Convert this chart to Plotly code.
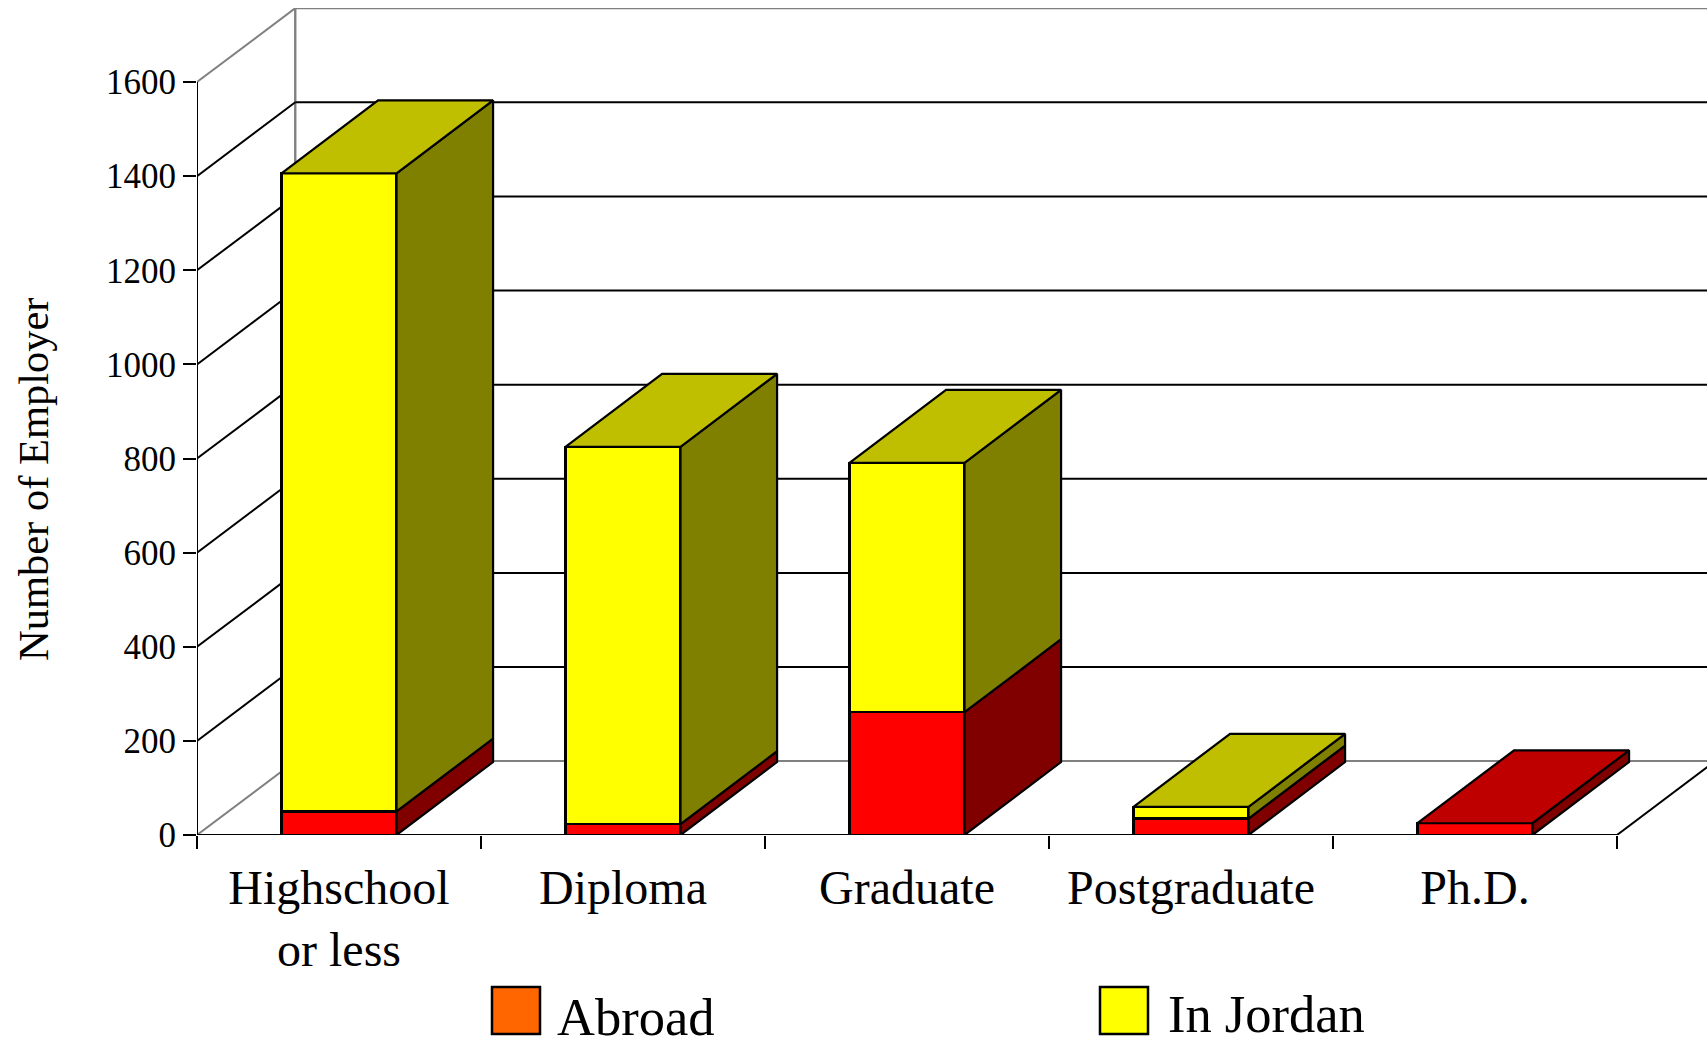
import plotly.graph_objects as go

categories = ["Highschool<br>or less", "Diploma", "Graduate", "Postgraduate", "Ph.D."]
abroad = [50, 23, 261, 35, 25]
in_jordan = [1356, 802, 530, 25, 0]
y_ticks = [0, 200, 400, 600, 800, 1000, 1200, 1400, 1600]

# fake 3d depth, in axis units
wall_dx, wall_dy = 0.346, 157
bar_dx, bar_dy = 0.34, 155
bar_w = 0.405

x_centers = [i + 0.5 for i in range(len(categories))]
x_edges = list(range(len(categories) + 1))

# plot box in pixels
L, T, R, B = 197, 8, 1707, 835


def px(x):
    return (x - L) / (R - L)


def py(y):
    return (B - y) / (B - T)


def add_polys(fig, polys, color):
    xs, ys = [], []
    for p in polys:
        xs += [a for a, b in p] + [p[0][0], None]
        ys += [b for a, b in p] + [p[0][1], None]
    fig.add_trace(go.Scatter(x=xs, y=ys, mode="lines", fill="toself", fillcolor=color,
                             line=dict(color="black", width=2.2), showlegend=False,
                             hoverinfo="skip", cliponaxis=False))


fig = go.Figure()

# front faces
fig.add_trace(go.Bar(x=x_centers, y=abroad, width=bar_w, name="Abroad", marker=dict(color="#FF0000", line=dict(color="black", width=2.2))))
fig.add_trace(go.Bar(x=x_centers, y=in_jordan, width=bar_w, name="In Jordan", marker=dict(color="#FFFF00", line=dict(color="black", width=2.2))))

# side and top faces
side_red, side_yellow, top_red, top_yellow = [], [], [], []
for xc, a, j in zip(x_centers, abroad, in_jordan):
    l = xc - bar_w / 2
    r = xc + bar_w / 2
    side_red.append([(r, 0), (r + bar_dx, bar_dy), (r + bar_dx, a + bar_dy), (r, a)])
    if j > 0:
        side_yellow.append([(r, a), (r + bar_dx, a + bar_dy), (r + bar_dx, a + j + bar_dy), (r, a + j)])
    t = a + j
    top = [(l, t), (l + bar_dx, t + bar_dy), (r + bar_dx, t + bar_dy), (r, t)]
    if j > 0:
        top_yellow.append(top)
    else:
        top_red.append(top)

add_polys(fig, side_red, "#800000")
add_polys(fig, side_yellow, "#808000")
add_polys(fig, top_red, "#BF0000")
add_polys(fig, top_yellow, "#BFBF00")

# walls and floor, under the bars
shapes = []
x_end = (R - L) / 284


def seg(x0, y0, x1, y1, color="black", width=2):
    shapes.append(dict(type="line", xref="x", yref="y", x0=x0, y0=y0, x1=x1, y1=y1,
                       layer="below", line=dict(color=color, width=width)))


seg(wall_dx, wall_dy, wall_dx, y_ticks[-1] + wall_dy, "#808080", 2.4)
for v in y_ticks:
    grey = v in (0, 1600)
    seg(0, v, wall_dx, v + wall_dy, "#808080" if grey else "black", 2)
    seg(wall_dx, v + wall_dy, x_end, v + wall_dy, "#808080" if grey else "black", 2)
seg(0, 0, 0, y_ticks[-1])
seg(0, 0, x_edges[-1], 0)
seg(x_edges[-1], 0, x_edges[-1] + wall_dx, wall_dy)

# legend
for x0, color in [(492, "#FF6600"), (1100, "#FFFF00")]:
    shapes.append(dict(type="rect", xref="paper", yref="paper", x0=px(x0), x1=px(x0 + 48),
                       y0=py(1034), y1=py(987), fillcolor=color, line=dict(color="black", width=2.5)))

annotations = [
    dict(text="Number of Employer", textangle=-90, xref="paper", yref="paper", x=px(34), y=py(479),
         xanchor="center", yanchor="middle", showarrow=False, font=dict(size=42.5)),
    dict(text="Abroad", xref="paper", yref="paper", x=px(555), y=py(1017), xanchor="left", yanchor="middle",
         showarrow=False, font=dict(size=52.5)),
    dict(text="In Jordan", xref="paper", yref="paper", x=px(1166), y=py(1014), xanchor="left", yanchor="middle",
         showarrow=False, font=dict(size=52.5)),
]

fig.update_layout(
    width=1707, height=1037, barmode="stack", showlegend=False,
    paper_bgcolor="white", plot_bgcolor="white",
    font=dict(family="Liberation Serif", color="black"),
    margin=dict(l=L, r=1707 - R, t=T, b=1037 - B, pad=0, autoexpand=False),
    shapes=shapes, annotations=annotations,
    xaxis=dict(range=[0, x_end], showgrid=False, zeroline=False, showline=False,
               tickmode="array", tickvals=x_centers, ticktext=categories, ticks="",
               tickfont=dict(size=48), ticklabelstandoff=20,
               minor=dict(tickmode="array", tickvals=x_edges, ticks="outside", ticklen=13,
                          tickwidth=2, tickcolor="black", showgrid=False)),
    yaxis=dict(range=[0, (B - T) / 0.4706], showgrid=False, zeroline=False, showline=False,
               tickmode="array", tickvals=y_ticks, ticks="outside", ticklen=13,
               tickwidth=2, tickcolor="black", tickfont=dict(size=35)),
)

fig.write_html("out.html", config=dict(displayModeBar=False), post_script="document.body.style.margin='0';")
